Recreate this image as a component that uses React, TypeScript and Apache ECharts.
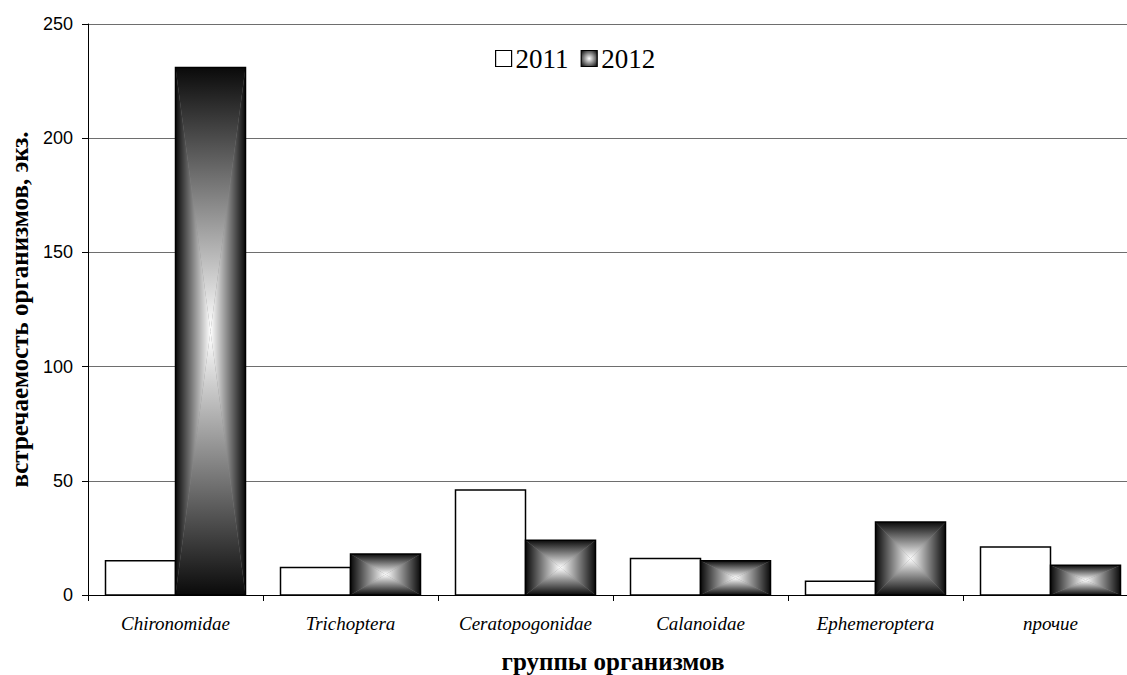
import React, { useEffect, useRef } from "react";
import * as echarts from "echarts";

const categories = ["Chironomidae", "Trichoptera", "Ceratopogonidae", "Calanoidae", "Ephemeroptera", "прочие"];
const values2011 = [15, 12, 46, 16, 6, 21];
const values2012 = [231, 18, 24, 15, 32, 13];
const seriesNames = ["2011", "2012"];
const yTicks = { min: 0, max: 250, interval: 50 };

const SERIF = "'Liberation Serif', 'Times New Roman', serif";
const SANS = "'Liberation Sans', Arial, sans-serif";

const DARK = "#0a0a0a";
const LIGHT = "#ffffff";

function lin(x2: number, y2: number, reverse: boolean) {
  return {
    type: "linear",
    x: 0,
    y: 0,
    x2,
    y2,
    colorStops: reverse
      ? [
          { offset: 0, color: LIGHT },
          { offset: 1, color: DARK },
        ]
      : [
          { offset: 0, color: DARK },
          { offset: 1, color: LIGHT },
        ],
  };
}

function barGeom(api: any, slot: number) {
  const idx = api.value(0);
  const val = api.value(1);
  const base = api.coord([idx, 0]);
  const topP = api.coord([idx, val]);
  const band = api.size([1, 0])[0];
  const w = band * 0.4;
  const left = slot === 0 ? base[0] - w : base[0];
  return { l: left, r: left + w, t: topP[1], b: base[1] };
}

function render2011(params: any, api: any) {
  const g = barGeom(api, 0);
  return {
    type: "rect",
    shape: { x: g.l, y: g.t, width: g.r - g.l, height: g.b - g.t },
    style: { fill: "#ffffff", stroke: "#000000", lineWidth: 1.5 },
  };
}

function render2012(params: any, api: any) {
  const g = barGeom(api, 1);
  const cx = (g.l + g.r) / 2;
  const cy = (g.t + g.b) / 2;
  return {
    type: "group",
    children: [
      {
        type: "rect",
        shape: { x: g.l, y: g.t, width: g.r - g.l, height: g.b - g.t },
        style: { fill: "#888888" },
      },
      {
        type: "polygon",
        shape: { points: [[g.l, g.t], [g.r, g.t], [cx, cy]] },
        style: { fill: lin(0, 1, false) },
      },
      {
        type: "polygon",
        shape: { points: [[g.l, g.b], [g.r, g.b], [cx, cy]] },
        style: { fill: lin(0, 1, true) },
      },
      {
        type: "polygon",
        shape: { points: [[g.l, g.t], [g.l, g.b], [cx, cy]] },
        style: { fill: lin(1, 0, false) },
      },
      {
        type: "polygon",
        shape: { points: [[g.r, g.t], [g.r, g.b], [cx, cy]] },
        style: { fill: lin(1, 0, true) },
      },
      {
        type: "rect",
        shape: { x: g.l, y: g.t, width: g.r - g.l, height: g.b - g.t },
        style: { fill: "none", stroke: "#000000", lineWidth: 1.5 },
      },
    ],
  };
}

export default function App() {
  const ref = useRef<HTMLDivElement>(null);

  useEffect(() => {
    if (!ref.current) return;
    const chart = echarts.init(ref.current, null, { renderer: "svg" });
    const option: any = {
      animation: false,
      backgroundColor: "#ffffff",
      legend: {
        left: 490,
        top: 40,
        icon: "rect",
        itemWidth: 16,
        itemHeight: 16,
        itemGap: 12,
        textStyle: { fontFamily: SERIF, fontSize: 27, color: "#000", padding: [0, 0, 0, -1] },
        data: [
          {
            name: seriesNames[0],
            itemStyle: { color: "#ffffff", borderColor: "#000", borderWidth: 1.2 },
          },
          {
            name: seriesNames[1],
            itemStyle: {
              color: {
                type: "radial",
                x: 0.5,
                y: 0.5,
                r: 0.6,
                colorStops: [
                  { offset: 0, color: "#ffffff" },
                  { offset: 1, color: "#222222" },
                ],
              },
              borderColor: "#000",
              borderWidth: 1.2,
            },
          },
        ],
      },
      grid: { left: 88, top: 24, width: 1050, height: 571, containLabel: false, outerBoundsMode: "none" },
      xAxis: {
        type: "category",
        data: categories,
        boundaryGap: true,
        axisLine: { show: true, lineStyle: { color: "#000", width: 1 } },
        axisTick: { show: true, inside: false, length: 6, lineStyle: { color: "#000" } },
        axisLabel: {
          fontFamily: SERIF,
          fontStyle: "italic",
          fontSize: 19,
          color: "#000",
          margin: 19,
          interval: 0,
        },
        name: "группы организмов",
        nameLocation: "middle",
        nameGap: 54,
        nameTextStyle: { fontFamily: SERIF, fontWeight: "bold", fontSize: 25, color: "#000" },
      },
      yAxis: {
        type: "value",
        min: yTicks.min,
        max: yTicks.max,
        interval: yTicks.interval,
        axisLine: { show: true, lineStyle: { color: "#000", width: 1 } },
        axisTick: { show: true, inside: false, length: 6, lineStyle: { color: "#000" } },
        axisLabel: { fontFamily: SANS, fontSize: 18, color: "#000", margin: 15 },
        splitLine: { show: true, lineStyle: { color: "#6e6e6e", width: 1 } },
        name: "встречаемость организмов, экз.",
        nameLocation: "middle",
        nameGap: 54,
        nameRotate: 90,
        nameTextStyle: { fontFamily: SERIF, fontWeight: "bold", fontSize: 25, color: "#000" },
      },
      series: [
        {
          name: seriesNames[0],
          type: "custom",
          renderItem: render2011,
          encode: { x: 0, y: 1 },
          data: values2011.map((v, i) => [i, v]),
          itemStyle: { color: "#ffffff", borderColor: "#000" },
        },
        {
          name: seriesNames[1],
          type: "custom",
          renderItem: render2012,
          encode: { x: 0, y: 1 },
          data: values2012.map((v, i) => [i, v]),
          itemStyle: { color: "#777777", borderColor: "#000" },
        },
      ],
    };
    chart.setOption(option);
    return () => chart.dispose();
  }, []);

  return (
    <div style={{ position: "fixed", left: 0, top: 0, width: 1127, height: 675, overflow: "hidden", background: "#fff" }}>
      <div ref={ref} style={{ width: 1140, height: 675 }} />
    </div>
  );
}
